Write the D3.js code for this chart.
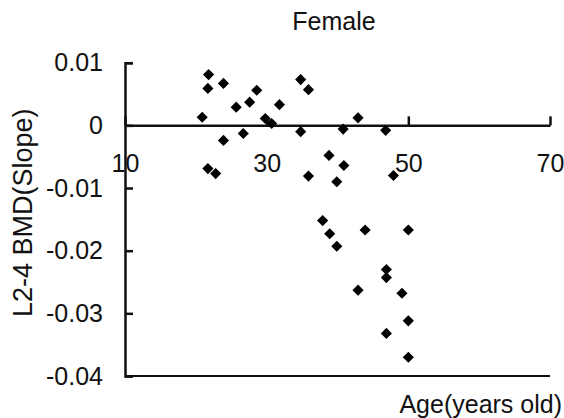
<!DOCTYPE html>
<html>
<head>
<meta charset="utf-8">
<script src="https://cdn.jsdelivr.net/npm/d3@7"></script>
<style>
  body { margin: 0; background: #fff; }
  text { font-family: "Liberation Sans", Arial, sans-serif; fill: #111; }
</style>
</head>
<body>
<svg id="chart" width="564" height="418"></svg>
<script>
// ages (years) and L2-4 BMD slope
const ages = [
  20.9, 21.8, 21.7, 23.9, 25.7, 27.6, 28.6, 26.7, 23.9, 31.8,
  29.8, 30.7, 34.8, 35.9, 34.8, 40.8, 42.9, 46.8, 21.7, 22.8,
  38.8, 40.9, 35.9, 39.9, 47.9, 37.9, 38.9, 39.9, 43.9, 50.0,
  46.9, 46.9, 42.9, 49.1, 50.0, 46.9, 50.0
];
const slopes = [
  0.0013, 0.0081, 0.0059, 0.0067, 0.0029, 0.0037, 0.0056, -0.0013, -0.0024, 0.0033,
  0.0011, 0.0003, 0.0073, 0.0057, -0.0010, -0.0006, 0.0012, -0.0008, -0.0069, -0.0077,
  -0.0048, -0.0064, -0.0081, -0.0090, -0.0080, -0.0152, -0.0173, -0.0193, -0.0167, -0.0167,
  -0.0230, -0.0243, -0.0263, -0.0268, -0.0312, -0.0332, -0.0370
];

const xTicks = [10, 30, 50, 70];
const yTicks = [0.01, 0, -0.01, -0.02, -0.03, -0.04];
const yTickLabels = ["0.01", "0", "-0.01", "-0.02", "-0.03", "-0.04"];

const svg = d3.select("#chart");

const x = d3.scaleLinear().domain([10, 70]).range([125, 550]);
const y = d3.scaleLinear().domain([-0.04, 0.01]).range([376, 62.7]);

// bottom frame line
svg.append("line")
  .attr("x1", x(10)).attr("x2", x(70))
  .attr("y1", y(-0.04)).attr("y2", y(-0.04))
  .attr("stroke", "#111")
  .attr("stroke-width", 2);

// y axis, ticks point inward
const yAxis = svg.append("g")
  .attr("transform", `translate(${x(10)},0)`)
  .call(d3.axisLeft(y)
    .tickValues(yTicks)
    .tickFormat((d, i) => yTickLabels[i])
    .tickSizeInner(-8)
    .tickSizeOuter(-8)
    .tickPadding(22));

// x axis crosses at zero, ticks point up
const xAxis = svg.append("g")
  .attr("transform", `translate(0,${y(0)})`)
  .call(d3.axisBottom(x)
    .tickValues(xTicks)
    .tickSizeInner(-9)
    .tickSizeOuter(0)
    .tickPadding(29));

[yAxis, xAxis].forEach(g => {
  g.selectAll("path, line").attr("stroke", "#111").attr("stroke-width", 2.5);
  g.selectAll("text").attr("font-size", 25).attr("fill", "#111");
  g.attr("font-family", null);
});

// points
svg.append("g")
  .selectAll("path")
  .data(ages)
  .join("path")
  .attr("d", d3.symbol(d3.symbolSquare).size(62))
  .attr("transform", (d, i) => `translate(${x(d)},${y(slopes[i])}) rotate(45)`)
  .attr("fill", "#000");

// titles
svg.append("text")
  .attr("x", 334).attr("y", 30)
  .attr("text-anchor", "middle")
  .attr("font-size", 25)
  .text("Female");

svg.append("text")
  .attr("x", 562).attr("y", 413)
  .attr("text-anchor", "end")
  .attr("font-size", 25)
  .text("Age(years old)");

svg.append("text")
  .attr("transform", "translate(32,317) rotate(-90)")
  .attr("text-anchor", "start")
  .attr("font-size", 27)
  .text("L2-4 BMD(Slope)");
</script>
</body>
</html>
